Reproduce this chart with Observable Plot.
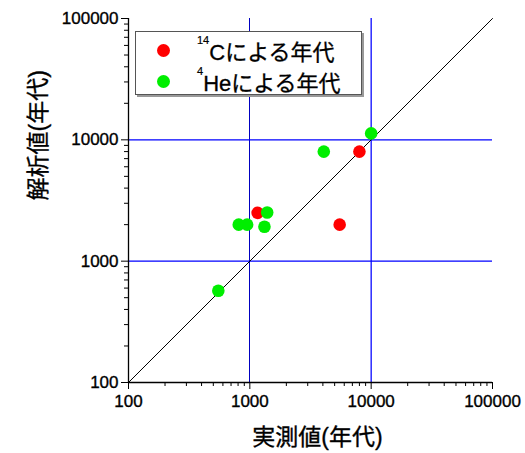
<!DOCTYPE html>
<html>
<head>
<meta charset="utf-8">
<script src="https://cdn.jsdelivr.net/npm/d3@7"></script>
<script src="https://cdn.jsdelivr.net/npm/@observablehq/plot@0.6"></script>
<style>
  body { margin: 0; background: #fff; }
  #wrap { position: relative; width: 525px; height: 453px; font-family: "Liberation Sans", Arial, "Noto Sans CJK JP", sans-serif; }
  #legend { position: absolute; left: 135px; top: 31px; width: 227px; height: 64px; background: #fff; border: 1px solid #555; box-shadow: 2px 2px 0 #999; box-sizing: border-box; }
  .row { position: absolute; left: 0; height: 30px; width: 100%; }
  .dot { position: absolute; left: 21px; width: 13px; height: 13px; border-radius: 50%; }
  .lab { position: absolute; left: 61px; font-size: 22px; color: #000; white-space: nowrap; -webkit-text-stroke: 0.3px #000; font-family: "Liberation Sans", Arial, "Noto Sans CJK JP", sans-serif; }
  .lab sup { font-size: 11px; vertical-align: top; position: relative; top: 0px; -webkit-text-stroke: 0.2px #000; }
</style>
</head>
<body>
<div id="wrap"></div>
<script>
const c14Measured = [1160, 5500, 8000];
const c14Analyzed = [2500, 2000, 8000];
const he4Measured = [550, 810, 950, 1320, 1390, 4070, 10000];
const he4Analyzed = [570, 2000, 2000, 1920, 2520, 8000, 11300];
const majorTicks = [100, 1000, 10000, 100000];
const minorTicks = [200,300,400,500,600,700,800,900,2000,3000,4000,5000,6000,7000,8000,9000,20000,30000,40000,50000,60000,70000,80000,90000];
const refBlueX = [10000];
const refBlueY = [1000, 10000];
const refDarkX = [1000];
const diagonal = [100, 100000];
const legendLabels = [{sup: "14", main: "Cによる年代", color: "#ff0000"}, {sup: "4", main: "Heによる年代", color: "#00ee00"}];

const c14 = c14Measured.map((m, i) => ({x: m, y: c14Analyzed[i]}));
const he4 = he4Measured.map((m, i) => ({x: m, y: he4Analyzed[i]}));
const diag = diagonal.map(v => ({x: v, y: v}));

const font = '"Liberation Sans", Arial, "Noto Sans CJK JP", sans-serif';
const textHeavy = {textStroke: "#000", textStrokeWidth: 0.35};
const crisp = {shapeRendering: "crispEdges"};

const chart = Plot.plot({
  width: 525,
  height: 453,
  marginLeft: 128,
  marginRight: 33,
  marginTop: 18,
  marginBottom: 71,
  style: {fontFamily: font, fontSize: "17px", color: "#000", background: "#fff"},
  x: {type: "log", domain: [100, 100000]},
  y: {type: "log", domain: [100, 100000]},
  marks: [
    Plot.ruleX(refDarkX, {stroke: "#0000c0", strokeWidth: 1, ...crisp}),
    Plot.ruleX(refBlueX, {stroke: "#0000ff", strokeWidth: 1.25}),
    Plot.ruleY(refBlueY, {stroke: "#0000ff", strokeWidth: 1.25}),
    Plot.line(diag, {x: "x", y: "y", stroke: "#000", strokeWidth: 1}),
    Plot.dot(c14, {x: "x", y: "y", r: 6.3, fill: "#ff0000", stroke: null}),
    Plot.dot(he4, {x: "x", y: "y", r: 6.3, fill: "#00ee00", stroke: null}),
    Plot.axisX(majorTicks, {tickSize: 7, tickPadding: 5, tickFormat: d => String(d), fontSize: 17, label: null, stroke: "#000", ...textHeavy}),
    Plot.axisX(minorTicks, {tickSize: 4, tickFormat: () => "", label: null, stroke: "#000"}),
    Plot.axisY(majorTicks, {tickSize: 7, tickPadding: 3, tickFormat: d => String(d), fontSize: 17, label: null, stroke: "#000", ...textHeavy}),
    Plot.axisY(minorTicks, {tickSize: 4, tickFormat: () => "", label: null, stroke: "#000"}),
    Plot.ruleY([100], {stroke: "#000", strokeWidth: 1.3}),
    Plot.ruleX([100], {stroke: "#000", strokeWidth: 1.3}),
    Plot.text(["実測値(年代)"], {frameAnchor: "bottom", dy: 62, dx: 7, fontSize: 23, fill: "#000", stroke: "#000", strokeWidth: 0.35}),
    Plot.text(["解析値(年代)"], {frameAnchor: "left", dx: -90, dy: 0, rotate: -90, fontSize: 23, fill: "#000", stroke: "#000", strokeWidth: 0.35})
  ]
});

const wrap = document.getElementById("wrap");
wrap.appendChild(chart);

const legend = document.createElement("div");
legend.id = "legend";
legendLabels.forEach((d, i) => {
  const row = document.createElement("div");
  row.className = "row";
  row.style.top = (3 + i * 31) + "px";
  const dot = document.createElement("div");
  dot.className = "dot";
  dot.style.background = d.color;
  dot.style.top = "9px";
  const lab = document.createElement("div");
  lab.className = "lab";
  lab.style.top = "-1px";
  lab.innerHTML = "<sup>" + d.sup + "</sup>" + d.main;
  row.appendChild(dot);
  row.appendChild(lab);
  legend.appendChild(row);
});
wrap.appendChild(legend);
</script>
</body>
</html>
